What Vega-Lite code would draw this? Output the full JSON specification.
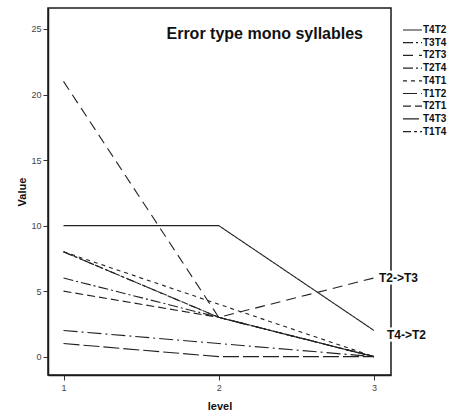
{
  "$schema": "https://vega.github.io/schema/vega-lite/v6.json",
  "width": 343,
  "height": 367,
  "autosize": {"type": "none"},
  "padding": {"left": 48, "top": 8, "right": 63, "bottom": 37},
  "background": "white",
  "config": {
    "font": "Liberation Sans",
    "view": {"stroke": "#1a1a1a", "strokeWidth": 1.5},
    "axis": {"grid": false, "domainColor": "#1a1a1a", "domainWidth": 1.5, "tickColor": "#333", "tickSize": 5, "labelColor": "#444", "labelFontSize": 9, "labelFont": "Liberation Sans", "titleFont": "Liberation Sans", "titleFontSize": 11, "titleFontWeight": "bold", "titleColor": "#111"}
  },
  "title": {"text": "Error type mono syllables", "anchor": "end", "frame": "group", "dx": -28, "dy": 38, "fontSize": 16, "fontWeight": "bold", "font": "Liberation Sans", "color": "#111"},
  "datasets": {
    "lines": [
      {"series": "T4T2", "level": 1, "value": 10}, {"series": "T4T2", "level": 2, "value": 10}, {"series": "T4T2", "level": 3, "value": 2},
      {"series": "T3T4", "level": 1, "value": 8}, {"series": "T3T4", "level": 2, "value": 3}, {"series": "T3T4", "level": 3, "value": 0},
      {"series": "T2T3", "level": 1, "value": 21}, {"series": "T2T3", "level": 2, "value": 3}, {"series": "T2T3", "level": 3, "value": 6},
      {"series": "T2T4", "level": 1, "value": 6}, {"series": "T2T4", "level": 2, "value": 3}, {"series": "T2T4", "level": 3, "value": 0},
      {"series": "T4T1", "level": 1, "value": 8}, {"series": "T4T1", "level": 2, "value": 4}, {"series": "T4T1", "level": 3, "value": 0},
      {"series": "T1T2", "level": 1, "value": 2}, {"series": "T1T2", "level": 2, "value": 1}, {"series": "T1T2", "level": 3, "value": 0},
      {"series": "T2T1", "level": 1, "value": 5}, {"series": "T2T1", "level": 2, "value": 3}, {"series": "T2T1", "level": 3, "value": 0},
      {"series": "T4T3", "level": 1, "value": 1}, {"series": "T4T3", "level": 2, "value": 0}, {"series": "T4T3", "level": 3, "value": 0},
      {"series": "T1T4", "level": 1, "value": 8}, {"series": "T1T4", "level": 2, "value": 3}, {"series": "T1T4", "level": 3, "value": 0}
    ],
    "labels": [
      {"label": "T2->T3", "level": 3, "value": 6},
      {"label": "T4->T2", "level": 3, "value": 2}
    ]
  },
  "layer": [
    {
      "data": {"name": "lines"},
      "mark": {"type": "line", "color": "#222", "strokeWidth": 1.1},
      "encoding": {
        "x": {"field": "level", "type": "quantitative", "scale": {"domain": [0.9, 3.11], "nice": false, "zero": false}, "axis": {"values": [1, 2, 3], "format": "d", "title": "level", "titlePadding": 8, "labelPadding": 3}},
        "y": {"field": "value", "type": "quantitative", "scale": {"domain": [-1.4, 26.6], "nice": false, "zero": false}, "axis": {"values": [0, 5, 10, 15, 20, 25], "title": "Value", "titlePadding": 3, "labelPadding": 2}},
        "strokeDash": {
          "field": "series", "type": "nominal",
          "scale": {
            "domain": ["T4T2", "T3T4", "T2T3", "T2T4", "T4T1", "T1T2", "T2T1", "T4T3", "T1T4"],
            "range": [[1, 0], [10, 3, 2, 3, 2, 3], [10, 6], [10, 3, 2, 3], [4, 4], [14, 4, 2, 4], [8, 4], [16, 4], [8, 3, 3, 3]]
          },
          "legend": {"orient": "none", "legendX": 354, "legendY": 16, "title": null, "symbolSize": 361, "symbolStrokeColor": "#222", "symbolStrokeWidth": 1.2, "labelFontSize": 10, "labelFontWeight": "bold", "labelFont": "Liberation Sans", "labelColor": "#111", "labelOffset": 0, "clipHeight": 12, "rowPadding": 0.7}
        }
      }
    },
    {
      "data": {"name": "labels"},
      "transform": [{"filter": "datum.label == 'T2->T3'"}],
      "mark": {"type": "text", "align": "left", "dx": 5, "dy": 0, "fontSize": 12, "fontWeight": "bold", "font": "Liberation Sans", "stroke": "white", "strokeWidth": 5, "fill": "white"},
      "encoding": {"x": {"field": "level", "type": "quantitative"}, "y": {"field": "value", "type": "quantitative"}, "text": {"field": "label"}}
    },
    {
      "data": {"name": "labels"},
      "transform": [{"filter": "datum.label == 'T2->T3'"}],
      "mark": {"type": "text", "align": "left", "dx": 5, "dy": 0, "fontSize": 12, "fontWeight": "bold", "font": "Liberation Sans", "color": "#111"},
      "encoding": {"x": {"field": "level", "type": "quantitative"}, "y": {"field": "value", "type": "quantitative"}, "text": {"field": "label"}}
    },
    {
      "data": {"name": "labels"},
      "transform": [{"filter": "datum.label == 'T4->T2'"}],
      "mark": {"type": "text", "align": "left", "dx": 13, "dy": 5, "fontSize": 12, "fontWeight": "bold", "font": "Liberation Sans", "stroke": "white", "strokeWidth": 5, "fill": "white"},
      "encoding": {"x": {"field": "level", "type": "quantitative"}, "y": {"field": "value", "type": "quantitative"}, "text": {"field": "label"}}
    },
    {
      "data": {"name": "labels"},
      "transform": [{"filter": "datum.label == 'T4->T2'"}],
      "mark": {"type": "text", "align": "left", "dx": 13, "dy": 5, "fontSize": 12, "fontWeight": "bold", "font": "Liberation Sans", "color": "#111"},
      "encoding": {"x": {"field": "level", "type": "quantitative"}, "y": {"field": "value", "type": "quantitative"}, "text": {"field": "label"}}
    }
  ]
}
